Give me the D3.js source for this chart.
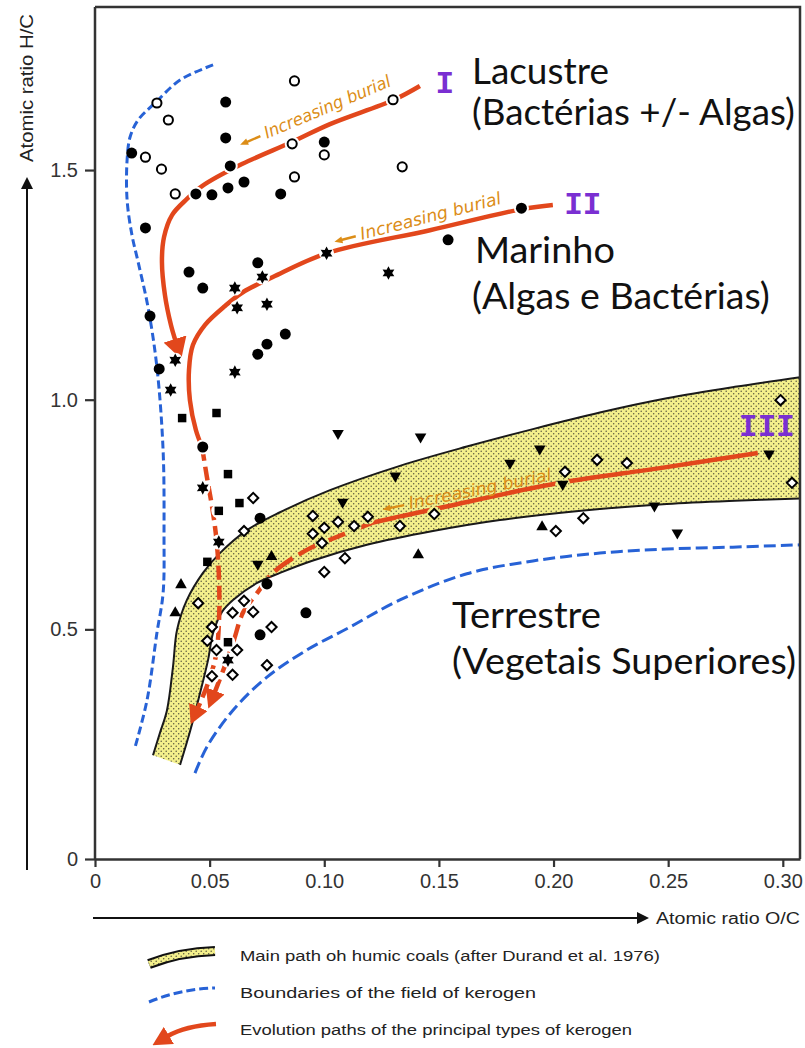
<!DOCTYPE html>
<html>
<head>
<meta charset="utf-8">
<script src="https://cdn.jsdelivr.net/npm/d3@7"></script>
<style>
  body { margin: 0; background: #fff; }
  svg { display: block; }
</style>
</head>
<body>
<script>
const W = 805, H = 1048;

// axis ticks
const xTicks = [0, 0.05, 0.10, 0.15, 0.20, 0.25, 0.30];
const yTicks = [0, 0.5, 1.0, 1.5];

// samples, [O/C, H/C]
const filledCircles = [[0.057,1.648],[0.057,1.570],[0.059,1.509],[0.058,1.461],[0.051,1.446],[0.044,1.448],
  [0.065,1.474],[0.081,1.448],[0.016,1.537],[0.022,1.374],[0.041,1.278],[0.047,1.243],[0.071,1.298],
  [0.100,1.561],[0.154,1.348],[0.186,1.417],[0.024,1.182],[0.028,1.067],[0.083,1.143],[0.075,1.121],
  [0.071,1.099],[0.047,0.897],[0.072,0.742],[0.075,0.599],[0.072,0.488],[0.092,0.536]];
const openCircles = [[0.087,1.694],[0.027,1.646],[0.032,1.609],[0.022,1.528],[0.029,1.502],[0.035,1.448],
  [0.086,1.557],[0.087,1.485],[0.130,1.653],[0.100,1.533],[0.134,1.507]];
const stars = [[0.061,1.243],[0.073,1.267],[0.062,1.200],[0.075,1.208],[0.101,1.319],[0.128,1.276],
  [0.035,1.086],[0.033,1.021],[0.061,1.060],[0.047,0.808],[0.054,0.690],[0.058,0.433]];
const squares = [[0.038,0.960],[0.053,0.971],[0.058,0.838],[0.063,0.775],[0.054,0.758],[0.049,0.647],[0.058,0.472]];
const diamonds = [[0.069,0.786],[0.065,0.714],[0.095,0.747],[0.100,0.721],[0.106,0.734],[0.095,0.708],
  [0.099,0.688],[0.113,0.725],[0.119,0.745],[0.133,0.725],[0.148,0.751],[0.109,0.655],[0.100,0.625],
  [0.201,0.714],[0.205,0.843],[0.219,0.869],[0.232,0.862],[0.213,0.742],[0.299,0.999],[0.304,0.819],
  [0.045,0.557],[0.065,0.562],[0.060,0.536],[0.069,0.538],[0.077,0.505],[0.051,0.505],[0.049,0.475],
  [0.053,0.455],[0.062,0.455],[0.075,0.422],[0.060,0.401],[0.051,0.398]];
const trianglesUp = [[0.0375,0.597],[0.035,0.536],[0.077,0.658],[0.141,0.662],[0.195,0.723]];
const trianglesDown = [[0.106,0.927],[0.142,0.919],[0.131,0.834],[0.108,0.777],[0.181,0.862],[0.194,0.893],
  [0.204,0.816],[0.244,0.769],[0.254,0.710],[0.294,0.882],[0.071,0.642]];

// kerogen field boundaries
const boundaryLeft = [[0.0515,1.729],[0.0371,1.696],[0.0262,1.646],[0.0188,1.609],[0.0153,1.572],[0.0140,1.522],
  [0.0140,1.435],[0.0161,1.359],[0.0188,1.300],[0.0231,1.202],[0.0270,1.071],[0.0297,0.890],[0.0301,0.710],
  [0.0297,0.579],[0.0270,0.492],[0.0227,0.346],[0.0174,0.242]];
const boundaryRight = [[0.0436,0.187],[0.0488,0.244],[0.0602,0.324],[0.0750,0.396],[0.0924,0.455],[0.1112,0.505],
  [0.1330,0.564],[0.1622,0.621],[0.1910,0.649],[0.2202,0.666],[0.2494,0.675],[0.2782,0.679],[0.3075,0.684]];

// humic coal band (Durand et al. 1976)
const coalUpper = [[0.0253,0.226],[0.0283,0.274],[0.0314,0.324],[0.0340,0.418],[0.0358,0.499],[0.0401,0.564],
  [0.0471,0.623],[0.0545,0.666],[0.0663,0.716],[0.0807,0.755],[0.1025,0.803],[0.1330,0.856],[0.1622,0.898],
  [0.1910,0.936],[0.2202,0.972],[0.2494,1.003],[0.2791,1.028],[0.3075,1.049]];
const coalLower = [[0.0371,0.205],[0.0414,0.277],[0.0458,0.361],[0.0493,0.433],[0.0515,0.492],[0.0554,0.538],
  [0.0602,0.564],[0.0707,0.601],[0.0807,0.623],[0.0951,0.650],[0.1186,0.684],[0.1474,0.714],[0.1766,0.738],
  [0.2202,0.762],[0.2494,0.773],[0.2791,0.780],[0.3075,0.785]];

// evolution paths
const pathI = [[0.1417,1.683],[0.1304,1.653],[0.1025,1.600],[0.0859,1.561],[0.0641,1.513],[0.0467,1.465],
  [0.0401,1.437],[0.0336,1.402],[0.0301,1.354],[0.0292,1.300],[0.0305,1.228],[0.0331,1.163],[0.0350,1.130]];
const pathIIa = [[0.1997,1.424],[0.1862,1.415],[0.1461,1.369],[0.1012,1.319],[0.0776,1.267],[0.0645,1.234],
  [0.0567,1.204],[0.0480,1.163],[0.0427,1.119],[0.0410,1.065],[0.0414,0.999],[0.0440,0.934],[0.0467,0.897]];
const pathIIb = [[0.0467,0.897],[0.0488,0.832],[0.0515,0.753],[0.0532,0.684],[0.0541,0.607],[0.0541,0.520],
  [0.0528,0.444],[0.0493,0.383],[0.0449,0.329]];
const pathIIIa = [[0.2891,0.884],[0.2464,0.851],[0.2028,0.819],[0.1518,0.766],[0.1208,0.732]];
const pathIIIb = [[0.1208,0.732],[0.1025,0.695],[0.0924,0.673],[0.0776,0.623],[0.0707,0.579],[0.0645,0.536],
  [0.0606,0.477],[0.0563,0.416],[0.0523,0.364]];

const burialText = "Increasing burial";
const typeNames = ["I", "II", "III"];
const originNames = [["Lacustre", "(Bactérias +/- Algas)"], ["Marinho", "(Algas e Bactérias)"], ["Terrestre", "(Vegetais Superiores)"]];
const legendNames = ["Main path oh humic coals (after Durand et al. 1976)", "Boundaries of the field of kerogen",
  "Evolution paths of the principal types of kerogen"];

const RED = "#e2471c", BLUE = "#2762d6", PURPLE = "#7a2fd2", ORANGE = "#dc8d17", AXIS = "#333";

const svg = d3.select("body").append("svg").attr("width", W).attr("height", H)
  .attr("font-family", "'Liberation Sans', Arial, sans-serif");

const x = d3.scaleLinear().domain([0, 0.3075]).range([95, 800]);
const y = d3.scaleLinear().domain([0, 1.855]).range([859, 7]);

const defs = svg.append("defs");
const pat = defs.append("pattern").attr("id", "dots").attr("width", 5).attr("height", 5)
  .attr("patternUnits", "userSpaceOnUse");
pat.append("rect").attr("width", 5).attr("height", 5).attr("fill", "#f4f08c");
pat.append("circle").attr("cx", 1.2).attr("cy", 1.2).attr("r", 0.75).attr("fill", "#58573c");
pat.append("circle").attr("cx", 3.7).attr("cy", 3.7).attr("r", 0.75).attr("fill", "#58573c");

defs.append("clipPath").attr("id", "plotClip").append("rect")
  .attr("x", x(0)).attr("y", y.range()[1]).attr("width", x.range()[1] - x(0)).attr("height", y(0) - y.range()[1]);

function arrowMarker(id, len, half, color) {
  defs.append("marker").attr("id", id).attr("markerUnits", "userSpaceOnUse")
    .attr("viewBox", `0 ${-half} ${len} ${2 * half}`).attr("refX", 1).attr("refY", 0)
    .attr("markerWidth", len).attr("markerHeight", 2 * half).attr("orient", "auto")
    .append("path").attr("d", `M0,${-half}L${len},0L0,${half}Z`).attr("fill", color);
}
arrowMarker("arrBig", 21, 12, RED);
arrowMarker("arrMid", 19, 10, RED);
arrowMarker("arrAxis", 12, 6, "#111");

const allMarkers = [].concat(filledCircles, openCircles, stars, squares, diamonds, trianglesUp, trianglesDown);

// red lines are broken where a sample sits on them
const mask = defs.append("mask").attr("id", "gaps").attr("maskUnits", "userSpaceOnUse")
  .attr("x", 0).attr("y", 0).attr("width", W).attr("height", H);
mask.append("rect").attr("width", W).attr("height", H).attr("fill", "#fff");
mask.selectAll("circle").data(allMarkers).join("circle")
  .attr("cx", d => x(d[0])).attr("cy", d => y(d[1])).attr("r", 7.5).attr("fill", "#000");

const line = d3.line().x(d => x(d[0])).y(d => y(d[1])).curve(d3.curveCatmullRom.alpha(0.5));

const plot = svg.append("g").attr("clip-path", "url(#plotClip)");

// coal band
const bandD = line(coalUpper) + "L" + line(coalLower.slice().reverse()).slice(1) + "Z";
plot.append("path").attr("d", bandD).attr("fill", "url(#dots)");
[coalUpper, coalLower].forEach(edge => {
  plot.append("path").attr("d", line(edge)).attr("fill", "none").attr("stroke", "#1a1a1a").attr("stroke-width", 2);
});

// boundaries
[[boundaryLeft, "8,4"], [boundaryRight, "12,5"]].forEach(([b, dash]) => {
  plot.append("path").attr("d", line(b)).attr("fill", "none").attr("stroke", BLUE)
    .attr("stroke-width", 3).attr("stroke-dasharray", dash);
});

// evolution paths
const redPaths = [
  { pts: pathI, dash: null, marker: "arrBig" },
  { pts: pathIIa, dash: null, marker: null },
  { pts: pathIIb, dash: "14,6", marker: "arrMid" },
  { pts: pathIIIa, dash: null, marker: null },
  { pts: pathIIIb, dash: "22,7", marker: "arrMid" }
];
const redG = plot.append("g").attr("mask", "url(#gaps)");
redPaths.forEach(p => {
  const el = redG.append("path").attr("d", line(p.pts)).attr("fill", "none").attr("stroke", RED)
    .attr("stroke-width", 4.5);
  if (p.dash) el.attr("stroke-dasharray", p.dash);
  if (p.marker) el.attr("marker-end", `url(#${p.marker})`);
});

// symbols
const star6 = {
  draw(ctx, size) {
    const R = Math.sqrt(size), r = R * 0.55;
    for (let i = 0; i < 12; i++) {
      const a = i * Math.PI / 6 - Math.PI / 2, rr = i % 2 ? r : R;
      const px = Math.cos(a) * rr, py = Math.sin(a) * rr;
      i ? ctx.lineTo(px, py) : ctx.moveTo(px, py);
    }
    ctx.closePath();
  }
};
const diamond = {
  draw(ctx, size) {
    const R = Math.sqrt(size);
    ctx.moveTo(0, -R); ctx.lineTo(R, 0); ctx.lineTo(0, R); ctx.lineTo(-R, 0); ctx.closePath();
  }
};
const markerSets = [
  { data: filledCircles, type: d3.symbolCircle, size: 95, fill: "#000", stroke: "none", rot: 0 },
  { data: openCircles, type: d3.symbolCircle, size: 66, fill: "#fff", stroke: "#000", rot: 0 },
  { data: stars, type: star6, size: 46, fill: "#000", stroke: "none", rot: 0 },
  { data: squares, type: d3.symbolSquare, size: 72, fill: "#000", stroke: "none", rot: 0 },
  { data: diamonds, type: diamond, size: 26, fill: "#fff", stroke: "#000", rot: 0 },
  { data: trianglesUp, type: d3.symbolTriangle, size: 58, fill: "#000", stroke: "none", rot: 0 },
  { data: trianglesDown, type: d3.symbolTriangle, size: 58, fill: "#000", stroke: "none", rot: 180 }
];
markerSets.forEach(m => {
  plot.append("g").selectAll("path").data(m.data).join("path")
    .attr("d", d3.symbol().type(m.type).size(m.size))
    .attr("transform", d => `translate(${x(d[0])},${y(d[1])}) rotate(${m.rot})`)
    .attr("fill", m.fill).attr("stroke", m.stroke).attr("stroke-width", 2);
});

// "Increasing burial" labels along the paths
const burialPos = [
  { at: [0.0750, 1.568], angle: -23, len: 136 },
  { at: [0.1164, 1.348], angle: -14.5, len: 145 },
  { at: [0.1374, 0.762], angle: -11.5, len: 145 }
];
burialPos.forEach(b => {
  const g = plot.append("g").attr("transform", `translate(${x(b.at[0])},${y(b.at[1])}) rotate(${b.angle})`);
  g.append("path").attr("d", "M-5,-5L-20,-5").attr("stroke", ORANGE).attr("stroke-width", 2.4);
  g.append("path").attr("d", "M-27,-5L-19,-8.5L-19,-1.5Z").attr("fill", ORANGE);
  g.append("text").text(burialText).attr("font-family", "'DejaVu Sans', sans-serif")
    .attr("font-size", 17).attr("font-style", "oblique")
    .attr("fill", ORANGE).attr("textLength", b.len).attr("lengthAdjust", "spacingAndGlyphs");
});

// type numerals
const typePos = [[0.1526, 1.692], [0.2128, 1.428], [0.2931, 0.945]];
svg.append("g").selectAll("text").data(typeNames).join("text")
  .attr("x", (d, i) => x(typePos[i][0])).attr("y", (d, i) => y(typePos[i][1]))
  .attr("dy", "0.35em").attr("text-anchor", "middle").text(d => d)
  .attr("font-family", "'Liberation Mono', 'Courier New', monospace").attr("font-weight", "bold")
  .attr("font-size", 31).attr("fill", PURPLE);

// origin labels
const originPos = [[0.1644, 1.687, 1.598], [0.1657, 1.298, 1.197], [0.1557, 0.503, 0.403]];
const originLen = [[137, 323], [140, 298], [149, 344]];
originNames.forEach((pair, i) => {
  pair.forEach((t, j) => {
    svg.append("text").attr("x", x(originPos[i][0]) - (i === 1 && j === 1 ? 3 : 0))
      .attr("y", y(originPos[i][j + 1])).text(t)
      .attr("font-family", "Lato, 'Open Sans', sans-serif").attr("font-size", 37).attr("fill", "#111")
      .attr("textLength", originLen[i][j]).attr("lengthAdjust", "spacingAndGlyphs");
  });
});

// axes
const xAxis = svg.append("g").attr("transform", `translate(0,${y(0)})`)
  .call(d3.axisBottom(x).tickValues(xTicks).tickSize(8).tickSizeOuter(0).tickPadding(7)
    .tickFormat(d => d === 0 ? "0" : d3.format(".2f")(d)));
const yAxis = svg.append("g").attr("transform", `translate(${x(0)},0)`)
  .call(d3.axisLeft(y).tickValues(yTicks).tickSize(10).tickSizeOuter(0).tickPadding(7)
    .tickFormat(d => d === 0 ? "0" : d3.format(".1f")(d)));
[xAxis, yAxis].forEach(a => {
  a.attr("font-family", "'Liberation Sans', Arial, sans-serif").attr("font-size", 20);
  a.selectAll("text").attr("fill", AXIS);
  a.selectAll("line").attr("stroke", AXIS).attr("stroke-width", 2.2);
  a.select(".domain").attr("stroke", AXIS).attr("stroke-width", 2.5);
});
yAxis.select(".domain").attr("d", `M0,${y(0)}V${y.range()[1]}`);

// frame top / right
svg.append("path").attr("d", `M${x(0)},${y.range()[1]}H${x.range()[1]}V${y(0)}`)
  .attr("fill", "none").attr("stroke", AXIS).attr("stroke-width", 2.5);

// outer axis arrows and titles
svg.append("path").attr("d", "M27,870V188").attr("stroke", "#111").attr("stroke-width", 2)
  .attr("marker-end", "url(#arrAxis)");
svg.append("text").attr("transform", "translate(33,88) rotate(-90)").attr("text-anchor", "middle")
  .text("Atomic ratio H/C").attr("font-size", 18).attr("fill", "#222")
  .attr("textLength", 148).attr("lengthAdjust", "spacingAndGlyphs");
svg.append("path").attr("d", "M93,918H638").attr("stroke", "#111").attr("stroke-width", 2)
  .attr("marker-end", "url(#arrAxis)");
svg.append("text").attr("x", 656).attr("y", 924).text("Atomic ratio O/C")
  .attr("font-size", 16).attr("fill", "#222")
  .attr("textLength", 144).attr("lengthAdjust", "spacingAndGlyphs");

// legend
const legend = svg.append("g");
legend.append("path").attr("d", "M149,964Q180,952 215,951").attr("fill", "none")
  .attr("stroke", "#111").attr("stroke-width", 10);
legend.append("path").attr("d", "M149,964Q180,952 215,951").attr("fill", "none")
  .attr("stroke", "url(#dots)").attr("stroke-width", 6);
legend.append("path").attr("d", "M149,1002Q180,989 215,988").attr("fill", "none")
  .attr("stroke", BLUE).attr("stroke-width", 3).attr("stroke-dasharray", "9,4");
legend.append("path").attr("d", "M216,1024Q185,1026 168,1036").attr("fill", "none")
  .attr("stroke", RED).attr("stroke-width", 4.5).attr("marker-end", "url(#arrMid)");
const legendLen = [420, 296, 392];
legend.selectAll("text").data(legendNames).join("text")
  .attr("x", 240).attr("y", (d, i) => 961 + i * 37).text(d => d)
  .attr("font-size", 14).attr("fill", "#222")
  .attr("textLength", (d, i) => legendLen[i]).attr("lengthAdjust", "spacingAndGlyphs");
</script>
</body>
</html>
